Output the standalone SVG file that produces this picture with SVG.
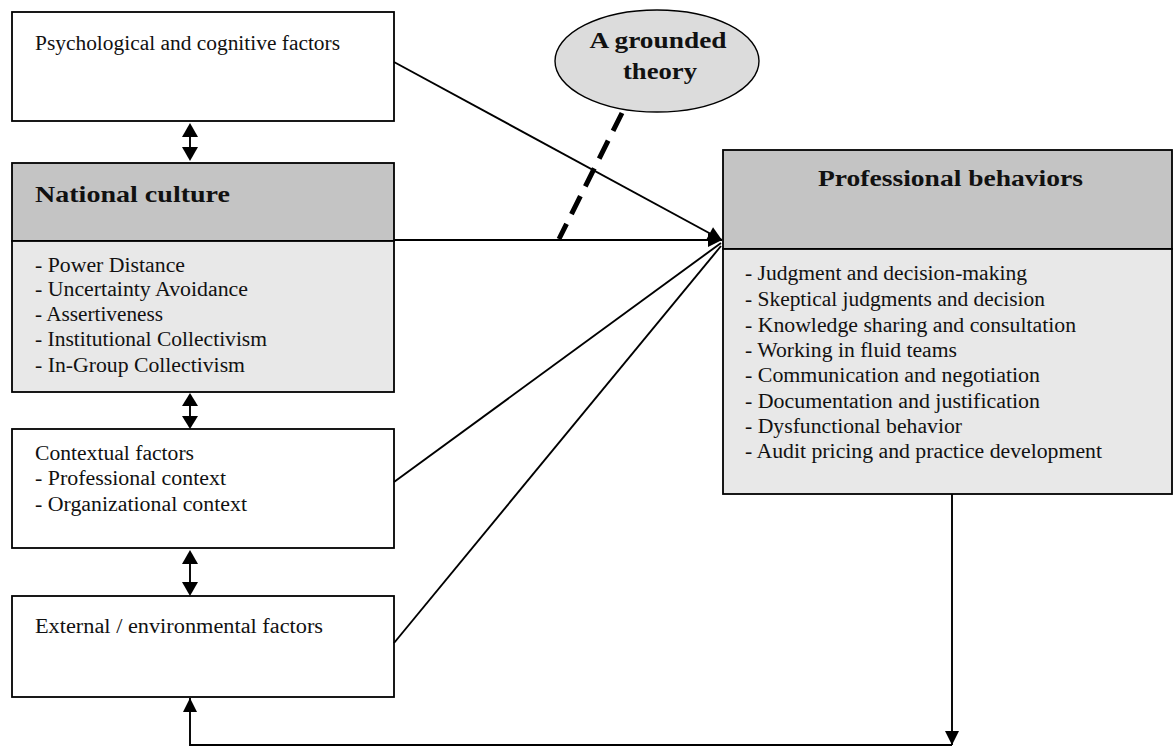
<svg xmlns="http://www.w3.org/2000/svg" width="1174" height="747" viewBox="0 0 1174 747">
  <style>
    .box { stroke: #000; stroke-width: 1.8; }
    .plain { fill: #ffffff; }
    .head { fill: #c4c4c4; }
    .body { fill: #e8e8e8; }
    .txt { font-family: "Liberation Serif", "Times New Roman", serif; font-size: 20px; fill: #111; }
    .title { font-family: "Liberation Serif", "Times New Roman", serif; font-size: 24px; font-weight: bold; fill: #111; }
    .link { stroke: #000; stroke-width: 1.9; fill: none; }
  </style>
  <defs>
    <marker id="head" viewBox="0 0 10 10" refX="10" refY="5" markerWidth="16" markerHeight="14" markerUnits="userSpaceOnUse" orient="auto">
      <path d="M0,0 L10,5 L0,10 z" fill="#000"/>
    </marker>
  </defs>

  <rect width="1174" height="747" fill="#ffffff"/>

  <!-- left column -->
  <g id="psychological">
    <rect class="box plain" x="12" y="12" width="382" height="109"/>
    <text class="txt" x="35" y="50" textLength="305" lengthAdjust="spacingAndGlyphs">Psychological and cognitive factors</text>
  </g>

  <g id="national-culture">
    <rect class="box head" x="12" y="163" width="382" height="78"/>
    <rect class="box body" x="12" y="241" width="382" height="151"/>
    <text class="title" x="35" y="202" textLength="195" lengthAdjust="spacingAndGlyphs">National culture</text>
    <text class="txt" x="35" y="272" textLength="150" lengthAdjust="spacingAndGlyphs">- Power Distance</text>
    <text class="txt" x="35" y="296" textLength="213" lengthAdjust="spacingAndGlyphs">- Uncertainty Avoidance</text>
    <text class="txt" x="35" y="321" textLength="128" lengthAdjust="spacingAndGlyphs">- Assertiveness</text>
    <text class="txt" x="35" y="346" textLength="232" lengthAdjust="spacingAndGlyphs">- Institutional Collectivism</text>
    <text class="txt" x="35" y="372" textLength="210" lengthAdjust="spacingAndGlyphs">- In-Group Collectivism</text>
  </g>

  <g id="contextual">
    <rect class="box plain" x="12" y="429" width="382" height="119"/>
    <text class="txt" x="35" y="460" textLength="159" lengthAdjust="spacingAndGlyphs">Contextual factors</text>
    <text class="txt" x="35" y="485" textLength="191" lengthAdjust="spacingAndGlyphs">- Professional context</text>
    <text class="txt" x="35" y="511" textLength="212" lengthAdjust="spacingAndGlyphs">- Organizational context</text>
  </g>

  <g id="external">
    <rect class="box plain" x="12" y="596" width="382" height="101"/>
    <text class="txt" x="35" y="633" textLength="288" lengthAdjust="spacingAndGlyphs">External / environmental factors</text>
  </g>

  <!-- outcome box -->
  <g id="professional-behaviors">
    <rect class="box head" x="723" y="150" width="449" height="99"/>
    <rect class="box body" x="723" y="249" width="449" height="245"/>
    <text class="title" x="818" y="186" textLength="265" lengthAdjust="spacingAndGlyphs">Professional behaviors</text>
    <text class="txt" x="745" y="280" textLength="282" lengthAdjust="spacingAndGlyphs">- Judgment and decision-making</text>
    <text class="txt" x="745" y="306" textLength="300" lengthAdjust="spacingAndGlyphs">- Skeptical judgments and decision</text>
    <text class="txt" x="745" y="332" textLength="331" lengthAdjust="spacingAndGlyphs">- Knowledge sharing and consultation</text>
    <text class="txt" x="745" y="357" textLength="212" lengthAdjust="spacingAndGlyphs">- Working in fluid teams</text>
    <text class="txt" x="745" y="382" textLength="295" lengthAdjust="spacingAndGlyphs">- Communication and negotiation</text>
    <text class="txt" x="745" y="408" textLength="295" lengthAdjust="spacingAndGlyphs">- Documentation and justification</text>
    <text class="txt" x="745" y="433" textLength="217" lengthAdjust="spacingAndGlyphs">- Dysfunctional behavior</text>
    <text class="txt" x="745" y="458" textLength="357" lengthAdjust="spacingAndGlyphs">- Audit pricing and practice development</text>
  </g>

  <!-- theory bubble -->
  <g id="grounded-theory">
    <ellipse cx="657" cy="61" rx="102" ry="51" fill="#dcdcdc" stroke="#000" stroke-width="1.4"/>
    <text class="title" x="658" y="48" font-size="22" text-anchor="middle" textLength="137" lengthAdjust="spacingAndGlyphs">A grounded</text>
    <text class="title" x="660" y="79" font-size="22" text-anchor="middle" textLength="74" lengthAdjust="spacingAndGlyphs">theory</text>
  </g>

  <!-- connectors -->
  <g id="connectors">
    <!-- two-way links between the left boxes -->
    <g fill="#000">
      <line class="link" x1="190" y1="130" x2="190" y2="155" stroke-width="2.5"/>
      <path d="M190,123 L198,137 L182,137 z"/>
      <path d="M190,161 L198,147 L182,147 z"/>
      <line class="link" x1="190" y1="400" x2="190" y2="423" stroke-width="2.5"/>
      <path d="M190,393 L198,406 L182,406 z"/>
      <path d="M190,429 L198,416 L182,416 z"/>
      <line class="link" x1="190" y1="557" x2="190" y2="590" stroke-width="2.5"/>
      <path d="M190,550 L198,564 L182,564 z"/>
      <path d="M190,596 L198,582 L182,582 z"/>
    </g>

    <!-- influences converging on the outcome box -->
    <line class="link" x1="394" y1="62" x2="722" y2="240" marker-end="url(#head)"/>
    <line class="link" x1="394" y1="240" x2="722" y2="240" marker-end="url(#head)"/>
    <line class="link" x1="394" y1="482" x2="721" y2="243"/>
    <line class="link" x1="394" y1="643" x2="721" y2="246"/>

    <!-- dashed tie from the theory bubble -->
    <line x1="622" y1="113" x2="559" y2="239" stroke="#000" stroke-width="5" stroke-dasharray="20,11"/>

    <!-- feedback loop back to the external factors -->
    <line class="link" x1="952" y1="494" x2="952" y2="745" marker-end="url(#head)"/>
    <polyline class="link" points="952,745 190,745 190,698" marker-end="url(#head)"/>
  </g>
</svg>
